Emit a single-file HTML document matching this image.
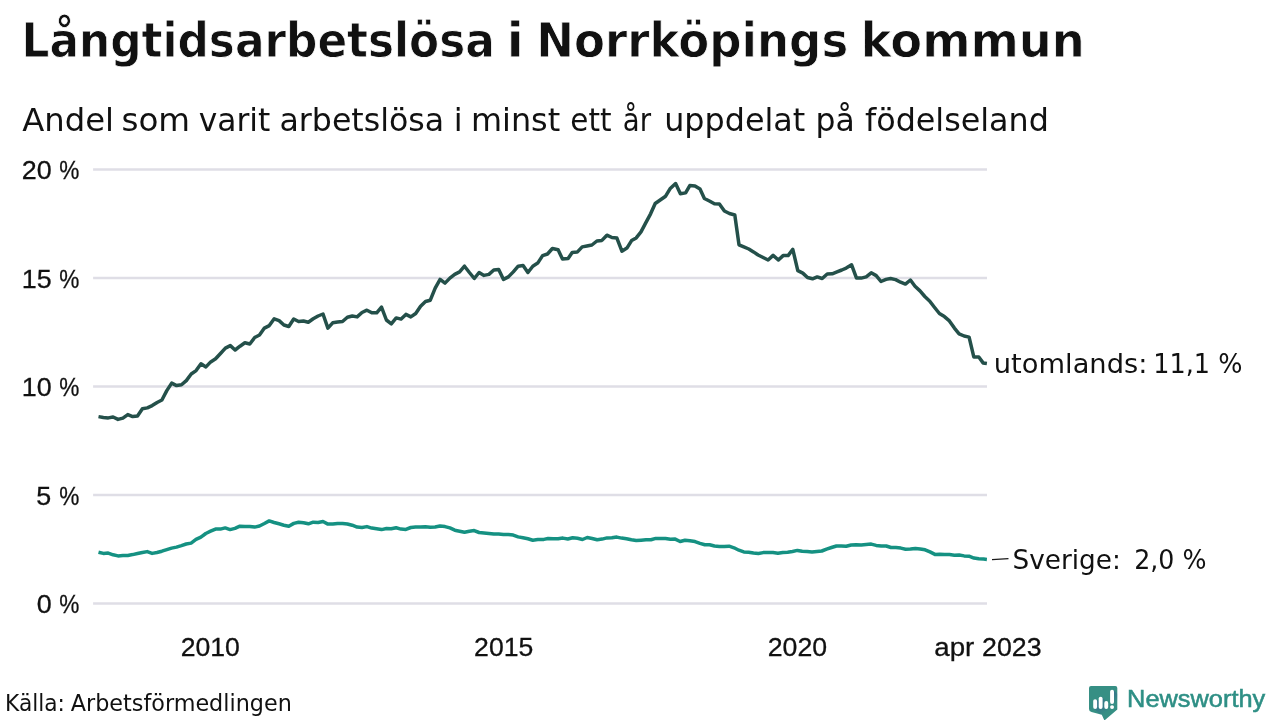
<!DOCTYPE html>
<html lang="sv">
<head>
<meta charset="utf-8">
<title>Långtidsarbetslösa i Norrköpings kommun</title>
<style>
html,body{margin:0;padding:0;background:#fff;}
body{width:1280px;height:720px;overflow:hidden;font-family:"DejaVu Sans","Liberation Sans",sans-serif;}
svg{display:block;}
text{font-family:"DejaVu Sans","Liberation Sans",sans-serif;fill:#111;}
.grid line{stroke:#dfdee6;stroke-width:2.67;}
.tick text{font-size:26.6px;stroke:#111;stroke-width:0.3px;font-family:"Liberation Sans",sans-serif;}
.lab{font-size:27.4px;}
</style>
</head>
<body>
<svg width="1280" height="720" viewBox="0 0 1280 720">
<rect width="1280" height="720" fill="#fff"/>
<text y="57.4" font-size="48.2" font-weight="bold" stroke="#fff" stroke-width="0.8"><tspan x="21.56" textLength="473.28" lengthAdjust="spacingAndGlyphs">Långtidsarbetslösa</tspan> <tspan x="506.61" textLength="17.53" lengthAdjust="spacingAndGlyphs">i</tspan> <tspan x="536.36" textLength="311.87" lengthAdjust="spacingAndGlyphs">Norrköpings</tspan> <tspan x="860.75" textLength="224.08" lengthAdjust="spacingAndGlyphs">kommun</tspan></text>
<text y="130.5" font-size="31.3"><tspan x="22.3" textLength="91.73" lengthAdjust="spacingAndGlyphs">Andel</tspan> <tspan x="121.46" textLength="68.63" lengthAdjust="spacingAndGlyphs">som</tspan> <tspan x="198.75" textLength="71.52" lengthAdjust="spacingAndGlyphs">varit</tspan> <tspan x="279.49" textLength="164.71" lengthAdjust="spacingAndGlyphs">arbetslösa</tspan> <tspan x="453.88" textLength="8.87" lengthAdjust="spacingAndGlyphs">i</tspan> <tspan x="470.96" textLength="89.32" lengthAdjust="spacingAndGlyphs">minst</tspan> <tspan x="570.31" textLength="41.2" lengthAdjust="spacingAndGlyphs">ett</tspan> <tspan x="622.87" textLength="28.26" lengthAdjust="spacingAndGlyphs">år</tspan> <tspan x="664.22" textLength="141.06" lengthAdjust="spacingAndGlyphs">uppdelat</tspan> <tspan x="815.49" textLength="39.19" lengthAdjust="spacingAndGlyphs">på</tspan> <tspan x="865.0" textLength="183.89" lengthAdjust="spacingAndGlyphs">födelseland</tspan></text>
<g class="grid">
<line x1="93.1" x2="987" y1="169.5" y2="169.5"/>
<line x1="93.1" x2="987" y1="278" y2="278"/>
<line x1="93.1" x2="987" y1="386.5" y2="386.5"/>
<line x1="93.1" x2="987" y1="495" y2="495"/>
<line x1="93.1" x2="987" y1="603.5" y2="603.5"/>
</g>
<g class="tick">
<text y="179" ><tspan x="21.89" textLength="29.91" lengthAdjust="spacingAndGlyphs">20</tspan> <tspan x="59.2" textLength="20.1" lengthAdjust="spacingAndGlyphs">%</tspan></text>
<text y="287.5" ><tspan x="21.89" textLength="29.91" lengthAdjust="spacingAndGlyphs">15</tspan> <tspan x="59.2" textLength="20.1" lengthAdjust="spacingAndGlyphs">%</tspan></text>
<text y="396" ><tspan x="21.89" textLength="29.91" lengthAdjust="spacingAndGlyphs">10</tspan> <tspan x="59.2" textLength="20.1" lengthAdjust="spacingAndGlyphs">%</tspan></text>
<text y="504.5" ><tspan x="36.24" textLength="14.96" lengthAdjust="spacingAndGlyphs">5</tspan> <tspan x="59.2" textLength="20.1" lengthAdjust="spacingAndGlyphs">%</tspan></text>
<text y="613" ><tspan x="36.84" textLength="14.96" lengthAdjust="spacingAndGlyphs">0</tspan> <tspan x="59.2" textLength="20.1" lengthAdjust="spacingAndGlyphs">%</tspan></text>
<text y="656" x="180.7" textLength="59.19" lengthAdjust="spacingAndGlyphs">2010</text>
<text y="656" x="474.1" textLength="59.19" lengthAdjust="spacingAndGlyphs">2015</text>
<text y="656" x="767.7" textLength="59.4" lengthAdjust="spacingAndGlyphs">2020</text>
<text y="656"><tspan x="934.26" textLength="39.99" lengthAdjust="spacingAndGlyphs">apr</tspan> <tspan x="982.09" textLength="59.5" lengthAdjust="spacingAndGlyphs">2023</tspan></text>
</g>
<polyline fill="none" stroke="#159182" stroke-width="3.5" stroke-linejoin="round" points="98.5,552.2 103.4,553.4 108.2,553.1 113.1,554.8 118.0,555.9 122.9,555.6 127.8,555.4 132.6,554.6 137.5,553.5 142.4,552.5 147.2,551.6 152.1,553.4 157.0,552.5 161.9,551.2 166.8,549.6 171.6,548.1 176.5,547.1 181.4,545.6 186.2,544.0 191.1,543.1 196.0,539.4 200.9,537.1 205.8,533.5 210.6,531.2 215.5,529.1 220.4,529.1 225.2,527.9 230.1,529.6 235.0,528.4 239.9,526.2 244.9,526.6 249.8,526.5 254.6,527.1 259.5,526.0 264.4,523.5 269.2,520.9 274.1,522.5 279.0,523.8 283.9,525.2 288.8,526.2 293.8,523.4 298.6,522.2 303.5,522.8 308.4,523.8 313.2,522.2 318.1,522.5 323.0,521.5 327.9,524.1 332.8,524.1 337.6,523.4 342.5,523.4 347.4,524.0 352.2,525.2 357.1,527.1 362.0,527.5 366.9,526.6 371.8,528.1 376.6,528.8 381.5,529.6 386.5,528.5 391.2,528.8 396.1,527.8 401.0,529.1 405.9,529.4 410.8,527.5 415.6,527.1 420.5,526.9 425.4,526.8 430.2,527.2 435.1,527.0 440.0,526.0 445.0,526.6 449.9,527.9 454.8,530.2 459.6,531.2 464.5,532.2 469.4,531.2 474.2,530.6 479.1,532.5 484.0,532.9 488.9,533.4 493.8,534.0 498.6,534.0 503.5,534.5 508.4,534.6 513.2,535.1 518.1,536.9 523.0,537.8 527.9,538.8 532.8,540.2 537.8,539.6 543.8,539.4 548.1,538.5 553.1,538.8 558.1,538.8 562.9,538.1 567.8,539.0 572.6,537.8 577.5,538.2 582.5,539.5 587.2,537.5 592.1,538.5 597.2,539.8 602.1,539.1 607.0,537.9 611.9,537.8 616.8,537.1 621.6,538.1 626.5,538.8 631.4,539.8 636.2,540.5 641.1,540.2 646.0,539.8 650.9,539.8 655.8,538.4 660.6,538.4 665.5,538.5 670.4,539.2 675.2,539.1 680.1,541.5 685.0,540.2 689.9,540.8 695.0,541.6 700.0,543.4 704.8,544.8 709.6,544.8 714.5,546.0 719.4,546.4 724.2,546.6 729.1,546.2 734.0,547.8 738.9,550.2 743.8,551.9 748.6,552.2 753.5,553.0 758.4,553.5 763.2,552.6 768.1,552.6 773.0,552.6 777.9,553.2 782.8,552.5 787.6,552.2 792.5,551.5 797.4,550.4 802.2,551.2 807.1,551.6 812.0,552.0 816.9,551.5 821.8,551.0 826.6,549.1 831.5,547.5 836.4,546.0 841.2,546.0 846.2,546.2 851.2,545.0 856.2,544.8 861.2,545.0 866.2,544.6 871.2,544.1 876.2,545.4 881.2,546.0 886.2,546.0 891.0,547.5 895.9,547.5 900.8,548.1 905.6,549.2 910.5,549.1 915.4,548.4 920.2,549.0 925.1,549.8 930.0,551.9 934.9,554.4 939.8,554.2 944.6,554.4 949.5,554.6 954.4,555.2 959.2,555.0 964.1,555.9 969.0,556.2 973.9,558.1 978.8,558.8 983.6,559.0 986.9,559.4"/>
<polyline fill="none" stroke="#24504a" stroke-width="3.5" stroke-linejoin="round" points="98.5,416.6 103.4,417.5 108.3,417.9 113.1,417.0 118.0,419.4 122.9,418.1 127.8,414.6 132.7,416.6 137.5,416.0 142.4,408.8 147.3,407.9 152.2,405.6 157.1,402.5 161.9,400.0 166.8,390.6 171.7,383.1 176.6,385.6 181.5,384.8 186.3,380.6 191.2,374.0 196.1,370.6 201.0,363.8 205.9,366.9 210.7,361.9 215.6,358.8 220.5,353.5 225.4,348.1 230.3,345.6 235.1,350.0 240.0,346.2 244.9,342.8 249.8,344.0 254.7,337.5 259.5,335.0 264.4,328.1 269.3,325.6 274.2,318.8 279.1,320.6 283.9,325.0 288.8,326.5 293.7,319.0 298.6,321.5 303.5,321.0 308.3,322.2 313.2,318.8 318.1,316.0 323.0,314.0 327.9,328.1 332.7,322.8 337.6,322.1 342.5,321.5 347.4,317.2 352.3,316.0 357.1,316.9 362.0,312.5 366.9,310.2 371.8,312.8 376.7,312.8 381.5,307.1 386.4,320.0 391.3,323.8 396.2,317.9 401.1,319.1 405.9,314.4 410.8,316.9 415.7,313.5 420.6,306.2 425.5,301.5 430.3,300.2 435.2,288.1 440.1,279.4 445.0,283.1 449.9,278.1 454.7,274.4 459.6,271.9 464.5,266.2 469.4,272.5 474.3,278.5 479.1,272.5 484.0,275.4 488.9,274.4 493.8,270.0 498.7,269.4 503.5,279.4 508.4,276.9 513.3,271.9 518.2,266.2 523.1,265.6 527.9,272.5 532.8,266.2 537.7,263.1 542.6,255.6 547.5,254.0 552.4,248.5 558.1,249.8 562.5,259.1 568.1,258.5 572.2,252.5 577.2,252.1 582.2,246.9 586.9,246.0 591.9,245.0 596.9,241.0 601.9,240.4 606.9,235.2 611.9,237.5 616.9,238.1 621.9,251.2 626.9,248.1 631.6,240.6 636.2,237.9 641.0,231.9 645.6,223.1 650.6,213.8 655.2,203.5 660.2,200.0 665.6,196.2 670.0,188.8 675.6,183.5 680.4,193.8 685.6,192.9 689.8,185.6 695.0,186.0 700.0,189.0 704.4,198.5 709.4,201.0 714.4,203.8 719.4,204.0 724.4,211.0 729.4,213.5 734.8,215.0 739.0,244.8 743.8,246.9 748.8,249.0 753.5,251.9 758.1,255.0 763.1,257.5 768.1,260.0 773.1,255.4 778.4,260.0 783.1,255.6 788.1,255.6 792.8,249.4 797.8,270.6 802.8,273.1 807.5,277.5 812.5,278.8 817.2,276.9 822.2,278.5 827.2,274.0 832.2,273.8 837.0,271.9 841.8,270.0 846.2,268.1 851.6,264.8 856.5,278.1 861.2,278.1 866.2,276.9 871.2,272.8 876.2,275.6 881.0,281.5 886.0,279.4 890.6,278.5 895.6,279.6 900.6,282.2 905.4,284.1 910.4,280.0 915.0,286.2 920.0,290.9 924.8,296.5 929.8,301.2 934.4,307.2 939.4,313.5 944.4,316.6 949.4,320.9 954.4,328.1 959.1,333.8 964.1,336.0 969.1,337.1 973.8,356.9 978.8,357.0 983.1,362.9 986.9,363.5"/>
<line x1="992" y1="559.6" x2="1008.5" y2="558.7" stroke="#1a1a1a" stroke-width="1.3"/>
<text class="lab" y="372.7"><tspan x="993.76" textLength="153.66" lengthAdjust="spacingAndGlyphs">utomlands:</tspan> <tspan x="1153.31" textLength="89.05" lengthAdjust="spacingAndGlyphs">11,1 %</tspan></text>
<text class="lab" y="568.7"><tspan x="1012.54" textLength="108.3" lengthAdjust="spacingAndGlyphs">Sverige:</tspan> <tspan x="1134.15" textLength="72.29" lengthAdjust="spacingAndGlyphs">2,0 %</tspan></text>
<text y="710.9" font-size="22.2"><tspan x="5.04" textLength="59.88" lengthAdjust="spacingAndGlyphs">Källa:</tspan> <tspan x="70.75" textLength="221.07" lengthAdjust="spacingAndGlyphs">Arbetsförmedlingen</tspan></text>
<g id="logo">
<path d="M1091 686.1H1115.3Q1117.3 686.1 1117.3 688.1V709.6L1104.4 720.5L1101.8 714.8L1091.5 711.9Q1089 711.2 1089 708.9V688.1Q1089 686.1 1091 686.1Z" fill="#368f84"/>
<defs><clipPath id="bub"><path d="M1091 686.1H1115.3Q1117.3 686.1 1117.3 688.1V709.6L1104.4 720.5L1101.8 714.8L1091.5 711.9Q1089 711.2 1089 708.9V688.1Q1089 686.1 1091 686.1Z"/></clipPath>
<linearGradient id="shd" gradientUnits="userSpaceOnUse" x1="1096" y1="699" x2="1108" y2="711"><stop offset="0" stop-color="#35608f" stop-opacity="0.75"/><stop offset="1" stop-color="#35608f" stop-opacity="0"/></linearGradient>
<linearGradient id="shd2" gradientUnits="userSpaceOnUse" x1="1113" y1="690" x2="1121" y2="698"><stop offset="0" stop-color="#35608f" stop-opacity="0.7"/><stop offset="1" stop-color="#35608f" stop-opacity="0"/></linearGradient></defs>
<g clip-path="url(#bub)"><path d="M1096.6 699.6L1114 717H1102.5L1094 708.5Z" fill="url(#shd)"/><path d="M1102 697.2L1114 709.2L1108 712L1100 708.5Z" fill="url(#shd)"/><path d="M1113.4 690L1122 698.6V714L1111 708.5Z" fill="url(#shd2)"/></g>
<g fill="#fff">
<rect x="1093.2" y="699.2" width="3.9" height="9.7" rx="1.9"/>
<rect x="1098.7" y="696.7" width="3.9" height="12.2" rx="1.9"/>
<rect x="1104.3" y="701.1" width="3.9" height="7.8" rx="1.9"/>
<rect x="1110.1" y="689.7" width="3.9" height="14.2" rx="1.9"/>
<rect x="1110.1" y="705.2" width="3.9" height="3.7" rx="1.85"/>
</g>
<text y="707" font-size="24.6" style="font-family:'Liberation Sans',sans-serif;fill:#2e8f85;stroke:#2e8f85;stroke-width:0.55px" x="1127.14" textLength="138.14" lengthAdjust="spacingAndGlyphs">Newsworthy</text>
</g>
</svg>
</body>
</html>
